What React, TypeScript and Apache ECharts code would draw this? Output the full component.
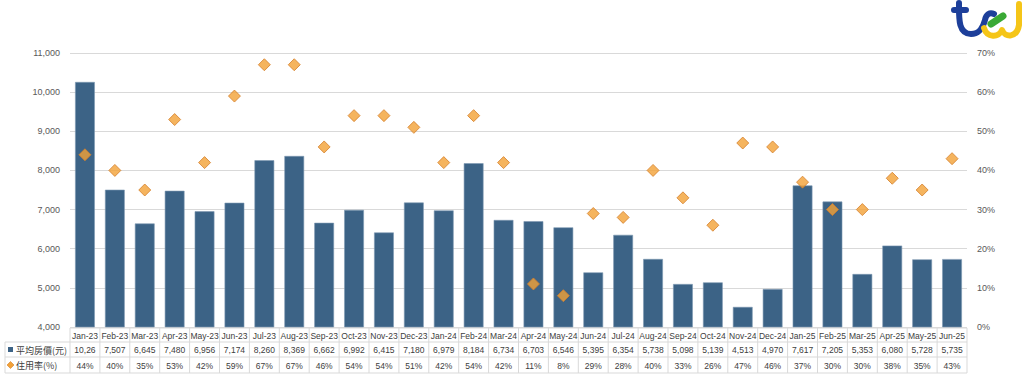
import React, { useEffect, useRef } from "react";
import * as echarts from "echarts";

const categories = [
  "Jan-23", "Feb-23", "Mar-23", "Apr-23", "May-23", "Jun-23", "Jul-23", "Aug-23", "Sep-23", "Oct-23",
  "Nov-23", "Dec-23", "Jan-24", "Feb-24", "Mar-24", "Apr-24", "May-24", "Jun-24", "Jul-24", "Aug-24",
  "Sep-24", "Oct-24", "Nov-24", "Dec-24", "Jan-25", "Feb-25", "Mar-25", "Apr-25", "May-25", "Jun-25",
];
const avgPrice = [
  10260, 7507, 6645, 7480, 6956, 7174, 8260, 8369, 6662, 6992,
  6415, 7180, 6979, 8184, 6734, 6703, 6546, 5395, 6354, 5738,
  5098, 5139, 4513, 4970, 7617, 7205, 5353, 6080, 5728, 5735,
];
const occupancy = [
  44, 40, 35, 53, 42, 59, 67, 67, 46, 54,
  54, 51, 42, 54, 42, 11, 8, 29, 28, 40,
  33, 26, 47, 46, 37, 30, 30, 38, 35, 43,
];
const seriesNames = ["平均房價(元)", "住用率(%)"];

const BAR_COLOR = "#3c6386";
const DIAMOND_FILL = "#f2a136";
const DIAMOND_STROKE = "#d4802c";
const GRID_COLOR = "#d9d9d9";
const TEXT_COLOR = "#404040";
const FONT = "'Liberation Sans', Arial, 'Noto Sans CJK TC', sans-serif";

let shapesRegistered = false;
function registerLogo() {
  if (shapesRegistered) return;
  shapesRegistered = true;
  echarts.graphic.registerShape(
    "logoBlue",
    echarts.graphic.extendPath("M 954 10 L 966 10 M 959 3 C 959 18, 958 34, 971 34 C 980 34, 983 27, 985 20 C 986 14, 990 12, 994 14", {})
  );
  echarts.graphic.registerShape(
    "logoGreen",
    echarts.graphic.extendPath("M 991 24 L 1003 16", {})
  );
  echarts.graphic.registerShape(
    "logoYellow",
    echarts.graphic.extendPath("M 984 28 C 987 38, 999 38, 1002 30 C 1005 38, 1017 38, 1019 25 L 1019 4", {})
  );
}

function fmt(v: number) {
  const s = v.toLocaleString("en-US");
  return s.length > 5 ? s.slice(0, 5) : s;
}

export default function App() {
  const ref = useRef<HTMLDivElement>(null);
  useEffect(() => {
    if (!ref.current) return;
    registerLogo();
    const chart = echarts.init(ref.current, null, { renderer: "svg" });
    const option: any = {
      animation: false,
      backgroundColor: "#ffffff",
      grid: { left: 70, right: 57, top: 53, bottom: 54 },
      xAxis: {
        type: "category",
        data: categories,
        axisLabel: { show: false },
        axisTick: { show: false },
        axisLine: { show: false },
      },
      yAxis: [
        {
          type: "value",
          min: 4000,
          max: 11000,
          interval: 1000,
          axisLabel: {
            fontSize: 9,
            color: "#595959",
            fontFamily: FONT,
            margin: 10,
            formatter: (v: number) => v.toLocaleString("en-US"),
          },
          axisLine: { show: false },
          axisTick: { show: false },
          splitLine: { lineStyle: { color: GRID_COLOR, width: 1 } },
        },
        {
          type: "value",
          min: 0,
          max: 70,
          interval: 10,
          axisLabel: {
            fontSize: 9,
            color: "#595959",
            fontFamily: FONT,
            margin: 10,
            formatter: "{value}%",
          },
          axisLine: { show: false },
          axisTick: { show: false },
          splitLine: { show: false },
        },
      ],
      series: [
        {
          name: seriesNames[0],
          type: "bar",
          yAxisIndex: 0,
          data: avgPrice,
          barWidth: "66%",
          itemStyle: { color: BAR_COLOR, borderColor: "#7d98b2", borderWidth: 0.6 },
        },
        {
          name: seriesNames[1],
          type: "scatter",
          yAxisIndex: 1,
          data: occupancy,
          symbol: "diamond",
          symbolSize: 12,
          itemStyle: { color: DIAMOND_FILL, borderColor: DIAMOND_STROKE, borderWidth: 1 },
          z: 5,
        },
      ],
    };
    chart.setOption(option);

    const xs = categories.map((_, i) => chart.convertToPixel({ xAxisIndex: 0 }, i) as number);
    const half = (xs[1] - xs[0]) / 2;
    const xStart = xs[0] - half;
    const xEnd = xs[xs.length - 1] + half;
    const tableLeft = 5;
    const rowY = [328, 342, 357, 373];

    const els: any[] = [];
    const line = (x1: number, y1: number, x2: number, y2: number) =>
      els.push({
        type: "line",
        shape: { x1, y1, x2, y2 },
        style: { stroke: GRID_COLOR, lineWidth: 1 },
        silent: true,
      });
    line(xStart, rowY[0], xEnd, rowY[0]);
    line(tableLeft, rowY[1], xEnd, rowY[1]);
    line(tableLeft, rowY[2], xEnd, rowY[2]);
    line(tableLeft, rowY[3], xEnd, rowY[3]);
    line(tableLeft, rowY[1], tableLeft, rowY[3]);
    for (let i = 0; i <= categories.length; i++) {
      const x = xStart + i * half * 2;
      line(x, rowY[0], x, rowY[3]);
    }
    const txt = (x: number, y: number, text: string, align = "center", font = FONT, size = 8.5) =>
      els.push({
        type: "text",
        x,
        y,
        silent: true,
        style: {
          text,
          fill: TEXT_COLOR,
          fontSize: size,
          fontFamily: font,
          align,
          verticalAlign: "middle",
        },
      });
    categories.forEach((c, i) => {
      txt(xs[i], (rowY[0] + rowY[1]) / 2 + 0.5, c);
      txt(xs[i], (rowY[1] + rowY[2]) / 2 + 0.5, fmt(avgPrice[i]));
      txt(xs[i], (rowY[2] + rowY[3]) / 2 + 0.5, occupancy[i] + "%");
    });
    // legend keys
    const r2 = (rowY[1] + rowY[2]) / 2;
    const r3 = (rowY[2] + rowY[3]) / 2;
    els.push({
      type: "rect",
      shape: { x: 8, y: r2 - 2.5, width: 5, height: 5 },
      style: { fill: BAR_COLOR },
      silent: true,
    });
    els.push({
      type: "polygon",
      shape: { points: [[10.5, r3 - 3.5], [14, r3], [10.5, r3 + 3.5], [7, r3]] },
      style: { fill: DIAMOND_FILL, stroke: DIAMOND_STROKE, lineWidth: 0.6 },
      silent: true,
    });
    const cjk = "'Noto Sans CJK TC', 'Noto Sans CJK SC', sans-serif";
    txt(16, r2 + 0.5, seriesNames[0], "left", cjk, 9);
    txt(16, r3 + 0.5, seriesNames[1], "left", cjk, 9);

    // logo
    els.push({
      type: "logoBlue",
      silent: true,
      style: { fill: null, stroke: "#1d3f9a", lineWidth: 6, lineCap: "round", lineJoin: "round" },
    });
    els.push({
      type: "logoYellow",
      silent: true,
      style: { fill: null, stroke: "#f5c518", lineWidth: 6, lineCap: "round", lineJoin: "round" },
    });
    els.push({
      type: "logoGreen",
      silent: true,
      style: { fill: null, stroke: "#3aa935", lineWidth: 7, lineCap: "round" },
    });

    chart.setOption({ graphic: { elements: els } });
    return () => chart.dispose();
  }, []);
  return (
    <div
      ref={ref}
      style={{ position: "fixed", left: 0, top: 0, width: 1024, height: 381, background: "#fff" }}
    />
  );
}
